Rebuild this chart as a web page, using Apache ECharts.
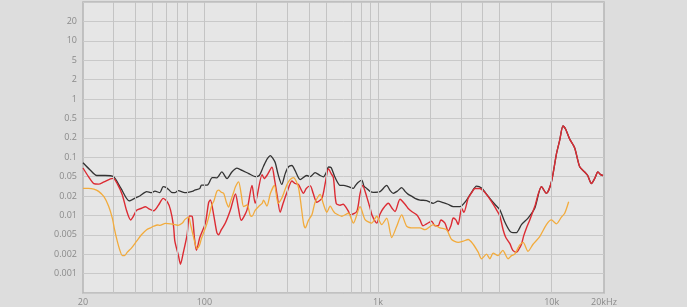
<!DOCTYPE html>
<html><head><meta charset="utf-8">
<script src="https://cdn.jsdelivr.net/npm/echarts@6/dist/echarts.min.js"></script>
<style>html,body{margin:0;padding:0;background:#dddddd;}#c{width:687px;height:307px;}</style>
</head><body><div id="c"></div>
<script>
// y axis: 1-2-5 steps, evenly spaced
const yTickValues = [0.0005,0.001,0.002,0.005,0.01,0.02,0.05,0.1,0.2,0.5,1,2,5,10,20,50];
const yTickLabels = ['','0.001','0.002','0.005','0.01','0.02','0.05','0.1','0.2','0.5','1','2','5','10','20',''];
const xTickLabels = {20:'20',100:'100',1000:'1k',10000:'10k',20000:'20kHz'};
const gridFreqs = [30,40,50,60,70,80,100,200,300,400,500,700,800,900,1000,2000,3000,4000,5000,10000];

const black = [[20,0.082],[21.9,0.064],[24,0.052],[26.8,0.052],[29.9,0.05],[33.1,0.0286],[36.9,0.0168],[40.7,0.0191],[42.5,0.02],[46.5,0.0246],[49.6,0.0234],[51.9,0.0252],[55.4,0.0234],[57.9,0.031],[60,0.03],[62.7,0.0264],[64.7,0.0238],[67.6,0.0234],[70.6,0.0257],[77.1,0.0234],[86.1,0.0252],[88,0.0264],[94.1,0.0286],[96.2,0.0334],[103.6,0.0334],[105.9,0.0361],[111,0.0478],[118,0.0472],[126,0.059],[135,0.0456],[144,0.059],[154,0.0675],[165,0.0624],[180,0.0556],[196,0.05],[207,0.052],[219,0.0724],[230,0.0943],[240,0.106],[249,0.0943],[256,0.082],[266,0.0536],[279,0.0345],[292,0.0556],[305,0.0711],[319,0.0744],[333,0.0618],[356,0.0435],[389,0.052],[407,0.05],[434,0.0576],[464,0.052],[485,0.0494],[503,0.0576],[518,0.0704],[537,0.0687],[566,0.0478],[605,0.0329],[632,0.0329],[675,0.031],[721,0.0286],[737,0.0319],[767,0.0379],[806,0.0425],[831,0.0314],[861,0.0286],[900,0.0249],[940,0.0238],[1027,0.0246],[1122,0.0329],[1172,0.0261],[1224,0.0227],[1286,0.0249],[1368,0.0297],[1430,0.0249],[1493,0.0216],[1568,0.0197],[1632,0.0184],[1744,0.0173],[1905,0.017],[2080,0.0154],[2211,0.0166],[2374,0.0158],[2525,0.0149],[2711,0.0137],[2960,0.0137],[3234,0.0173],[3425,0.0227],[3692,0.0319],[3944,0.0293],[4174,0.0227],[4402,0.0184],[4703,0.0149],[5027,0.0122],[5370,0.0079],[5742,0.0057],[5974,0.0054],[6270,0.0054],[6460,0.006],[6695,0.0072],[7304,0.0091],[7983,0.0129],[8726,0.031],[9322,0.0227],[9960,0.0391],[10640,0.112],[11118,0.184],[11613,0.35],[12035,0.30],[12689,0.191],[13560,0.139],[14490,0.071],[15480,0.059],[16110,0.052],[16910,0.0361],[17670,0.0456],[18450,0.059],[19130,0.0536],[19730,0.052]];

const red = [[20,0.068],[21.5,0.05],[23.1,0.036],[24.6,0.035],[26.4,0.039],[28.8,0.045],[29.9,0.046],[31.6,0.035],[33.7,0.021],[35.6,0.012],[37.6,0.0085],[39.1,0.0098],[40.7,0.012],[43.4,0.0129],[45.8,0.0136],[48.3,0.0125],[51.1,0.0118],[54.4,0.0144],[57.9,0.0184],[61.3,0.016],[63.8,0.0122],[66.4,0.0069],[67.6,0.0037],[70.9,0.0019],[72.8,0.0014],[75.7,0.0022],[79.5,0.005],[82,0.0098],[85,0.0097],[87.6,0.0044],[90,0.0024],[94.1,0.0044],[101.3,0.0076],[105.9,0.016],[108.3,0.0173],[113.1,0.0102],[118,0.0054],[120.8,0.005],[125.2,0.006],[132,0.0076],[141,0.012],[151,0.022],[157,0.0129],[163,0.0084],[176,0.0122],[188,0.0329],[196,0.0154],[215,0.0536],[221,0.0456],[229,0.052],[245,0.0699],[253,0.0456],[263,0.0197],[273,0.0112],[284,0.0154],[299,0.0238],[319,0.0406],[333,0.0361],[348,0.0345],[372,0.0227],[386,0.0286],[407,0.0322],[423,0.0227],[444,0.016],[475,0.0184],[496,0.0361],[518,0.0663],[537,0.0556],[553,0.0478],[574,0.0154],[605,0.0144],[629,0.0149],[675,0.0116],[690,0.0102],[754,0.0115],[788,0.0227],[815,0.0329],[861,0.0194],[900,0.0129],[924,0.01],[983,0.0076],[1027,0.0105],[1073,0.0129],[1146,0.0154],[1204,0.0129],[1252,0.0115],[1338,0.0178],[1430,0.0149],[1487,0.0129],[1562,0.0115],[1669,0.0102],[1744,0.0085],[1814,0.0069],[1905,0.0074],[2035,0.0081],[2126,0.0069],[2221,0.0069],[2302,0.0085],[2427,0.0076],[2535,0.0057],[2627,0.0069],[2711,0.0091],[2807,0.0085],[2894,0.0072],[3027,0.0129],[3121,0.0112],[3303,0.0184],[3469,0.0238],[3610,0.0286],[3857,0.0286],[4067,0.0249],[4304,0.0195],[4521,0.016],[4811,0.0122],[5027,0.0098],[5249,0.006],[5440,0.0044],[5742,0.0033],[5974,0.0024],[6270,0.0022],[6460,0.0025],[6695,0.0032],[6903,0.0048],[7154,0.0064],[7474,0.0085],[7983,0.0137],[8726,0.031],[9322,0.0227],[9960,0.0391],[10640,0.112],[11118,0.184],[11613,0.35],[12035,0.30],[12689,0.191],[13560,0.139],[14490,0.071],[15480,0.059],[16110,0.052],[16910,0.0361],[17670,0.0456],[18450,0.059],[19130,0.0536],[19730,0.052]];

const orange = [[20,0.0286],[21.5,0.0286],[23.1,0.0277],[24.6,0.0249],[26.4,0.0195],[28.1,0.0139],[29.5,0.0091],[30.4,0.006],[31.5,0.0037],[32.5,0.0025],[33.7,0.0019],[34.7,0.0019],[36,0.0022],[38.1,0.0027],[40.7,0.0037],[43.4,0.005],[46.5,0.006],[48.9,0.0064],[51.1,0.0068],[53.7,0.0071],[55.4,0.007],[59.7,0.0075],[63.8,0.0074],[67.6,0.0072],[70.6,0.007],[74.7,0.0076],[77.1,0.0086],[81.2,0.0094],[83.1,0.0074],[86.1,0.0049],[90.8,0.0026],[93.6,0.003],[96.2,0.0042],[103.6,0.0076],[110.7,0.0149],[113.1,0.0164],[118,0.0249],[120.8,0.0264],[125.2,0.0238],[129.1,0.0227],[133.8,0.016],[137.9,0.0134],[141,0.016],[147.4,0.0238],[151,0.031],[157.4,0.0391],[163,0.0216],[168.2,0.0137],[176,0.0145],[183.8,0.01],[188,0.0097],[196,0.012],[205,0.0137],[215,0.0154],[219,0.0172],[229,0.0139],[240,0.0227],[253,0.0329],[266,0.0154],[279,0.0184],[299,0.0345],[312,0.0435],[326,0.0478],[348,0.03],[372,0.0076],[381,0.0064],[398,0.0085],[416,0.0102],[434,0.016],[464,0.0216],[483,0.0154],[507,0.0112],[530,0.0139],[553,0.0116],[566,0.0108],[619,0.0097],[675,0.0108],[721,0.0076],[788,0.0137],[842,0.0086],[920,0.0076],[983,0.0097],[1050,0.0072],[1122,0.0091],[1199,0.0044],[1281,0.0068],[1368,0.0102],[1462,0.0068],[1595,0.0064],[1744,0.0064],[1862,0.006],[2080,0.0072],[2271,0.0064],[2482,0.006],[2652,0.004],[2894,0.0035],[3092,0.0037],[3303,0.004],[3529,0.0032],[3771,0.0022],[3944,0.0017],[4214,0.002],[4402,0.0017],[4599,0.0021],[4913,0.0019],[5228,0.0024],[5608,0.0017],[5866,0.0019],[6128,0.002],[6402,0.0027],[6547,0.0031],[6840,0.0035],[7304,0.0023],[7807,0.0032],[8530,0.0046],[9322,0.0072],[9960,0.0085],[10640,0.0074],[11370,0.0094],[11880,0.0108],[12520,0.0163]];

// map a value onto the evenly spaced 1-2-5 step axis (index 0 = 0.001)
function toStep(v){
  const t = yTickValues;
  if (v <= t[0]) return -1;
  for (let i = 0; i < t.length - 1; i++) {
    if (v <= t[i+1]) return i - 1 + Math.log(v / t[i]) / Math.log(t[i+1] / t[i]);
  }
  return t.length - 2;
}
const conv = arr => arr.map(p => [p[0], toStep(p[1])]);

const chart = echarts.init(document.getElementById('c'), null, {renderer: 'canvas'});
const FONT = 'Open Sans';
chart.setOption({
  animation: false,
  backgroundColor: '#dddddd',
  grid: {left: 83, right: 83, top: 2, bottom: 12, show: true, backgroundColor: '#e6e6e6', borderColor: '#b5b5b5', borderWidth: 1.5},
  xAxis: {
    type: 'log', logBase: 10, min: 20, max: 20000,
    axisLine: {show: false}, axisTick: {show: false}, splitLine: {show: false},
    axisLabel: {fontSize: 9, fontFamily: FONT, color: '#8a8a8a', margin: 5,
      formatter: v => { const k = Math.round(v); return xTickLabels[k] !== undefined ? xTickLabels[k] : ''; }}
  },
  yAxis: {
    type: 'value', min: -1, max: 14, interval: 1,
    axisLine: {show: false}, axisTick: {show: false},
    splitLine: {show: true, lineStyle: {color: '#c9c9c9', width: 1}},
    axisLabel: {fontSize: 9, fontFamily: FONT, color: '#8a8a8a', margin: 6,
      formatter: v => yTickLabels[Math.round(v) + 1] || ''}
  },
  series: [
    {type: 'line', data: [], z: 1, silent: true,
      markLine: {silent: true, symbol: 'none', label: {show: false}, animation: false,
        lineStyle: {color: '#c4c4c4', type: 'solid', width: 1},
        data: gridFreqs.map(f => ({xAxis: f}))}},
    {name: 'black', type: 'line', data: conv(black), showSymbol: false, smooth: 0.25, z: 3,
      lineStyle: {color: '#333333', width: 1.3}},
    {name: 'red', type: 'line', data: conv(red), showSymbol: false, smooth: 0.25, z: 4,
      lineStyle: {color: '#dc2b33', width: 1.4}},
    {name: 'orange', type: 'line', data: conv(orange), showSymbol: false, smooth: 0.25, z: 5,
      lineStyle: {color: '#f2ab3c', width: 1.3}}
  ]
});
</script></body></html>
